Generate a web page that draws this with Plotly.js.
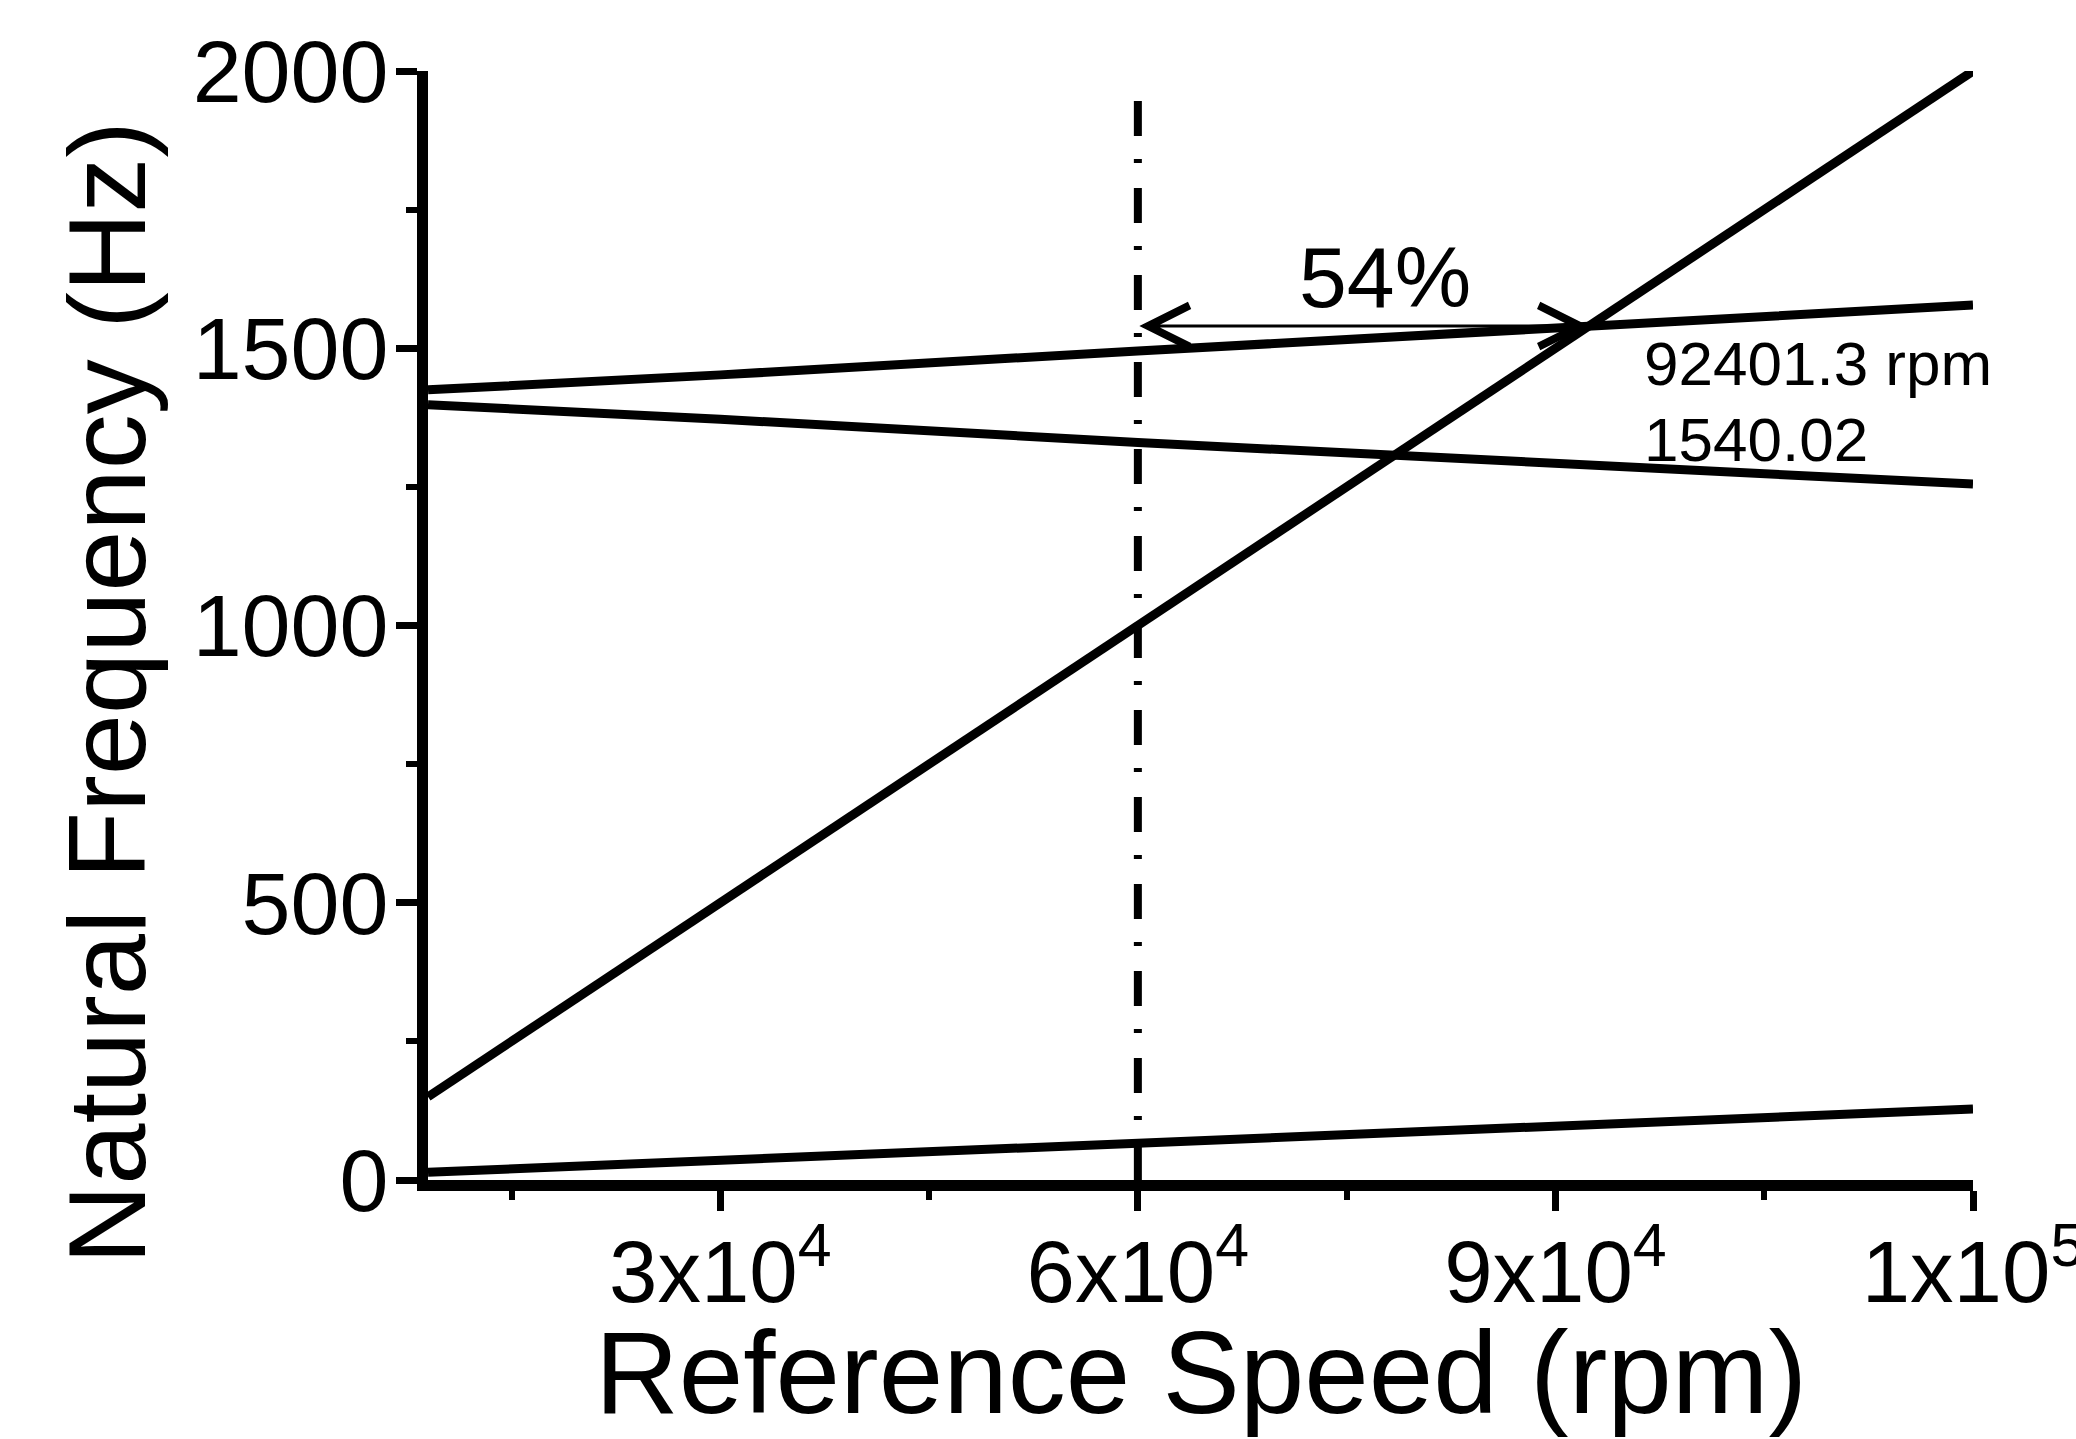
<!DOCTYPE html>
<html>
<head>
<meta charset="utf-8">
<script src="https://cdn.plot.ly/plotly-3.0.1.min.js"></script>
<style>html,body{margin:0;padding:0;background:#fff;}#chart{width:2076px;height:1439px;}</style>
</head>
<body>
<div id="chart"></div>
<script>
// Reference speed (rpm)
const speed = [9000, 30000, 60000, 90000, 120000];
// Natural frequency branches (Hz)
const lowMode = [14, 35, 66, 99, 128];
const forwardWhirl = [1425, 1452, 1495, 1538, 1578];
const backwardWhirl = [1398, 1372, 1330, 1293, 1255];
const excitation1X = [150, 500, 1000, 1500, 2000];
// Operating reference speed marker
const markerSpeed = [60000, 60000];
const markerFreq = [0, 1975];
// Crossing point
const crossSpeed = 92401.3;
const crossFreq = 1540.02;
const marginLabel = "54%";
// Ticks
const xTickVals = [30000, 60000, 90000, 120000];
const xTickText = ["3x10<sup>4</sup>", "6x10<sup>4</sup>", "9x10<sup>4</sup>", "1x10<sup>5</sup>"];
const yTickVals = [0, 500, 1000, 1500, 2000];
const yTickText = ["0", "500", "1000", "1500", "2000"];

const FONT = "Liberation Sans, Arial, sans-serif";
const lineStyle = {color: "#000", width: 9};

const traces = [
  {x: speed, y: lowMode, mode: "lines", line: lineStyle, name: "Mode 1"},
  {x: speed, y: forwardWhirl, mode: "lines", line: lineStyle, name: "Forward"},
  {x: speed, y: backwardWhirl, mode: "lines", line: lineStyle, name: "Backward"},
  {x: speed, y: excitation1X, mode: "lines", line: lineStyle, name: "1X"},
  {x: markerSpeed, y: markerFreq, mode: "lines",
   line: {color: "#000", width: 8, dash: "35px,25px,4px,23px"}, name: "Reference"}
];

const layout = {
  width: 2076, height: 1439,
  margin: {l: 428, r: 103, t: 71, b: 259, pad: 0},
  paper_bgcolor: "#fff", plot_bgcolor: "#fff",
  showlegend: false,
  font: {family: FONT, color: "#000", size: 84},
  xaxis: {
    range: [9000, 120000],
    tickmode: "array", tickvals: xTickVals, ticktext: xTickText,
    ticks: "outside", ticklen: 20, tickwidth: 7, tickcolor: "#000",
    minor: {dtick: 15000, tick0: 0, ticks: "outside", ticklen: 9, tickwidth: 6, tickcolor: "#000"},
    showline: true, linewidth: 11, linecolor: "#000",
    showgrid: false, zeroline: false,
    tickfont: {family: FONT, size: 87, color: "#000"},
    ticklabelstandoff: -13,
    ticklabeloverflow: "allow"
  },
  yaxis: {
    range: [0, 2000],
    tickmode: "array", tickvals: yTickVals, ticktext: yTickText,
    ticks: "outside", ticklen: 21, tickwidth: 7, tickcolor: "#000",
    minor: {dtick: 250, tick0: 0, ticks: "outside", ticklen: 11, tickwidth: 6, tickcolor: "#000"},
    showline: true, linewidth: 11, linecolor: "#000",
    showgrid: false, zeroline: false,
    tickfont: {family: FONT, size: 88, color: "#000"},
    ticklabelstandoff: -10,
    ticklabeloverflow: "allow"
  },
  annotations: [
    {xref: "paper", yref: "paper", x: -0.2084, y: 0.439, xanchor: "center", yanchor: "middle",
     text: "Natural Frequency (Hz)", textangle: -90, showarrow: false,
     font: {family: FONT, size: 110, color: "#000"}},
    {xref: "paper", yref: "paper", x: 0.5, y: -0.174, xanchor: "center", yanchor: "middle",
     text: "Reference Speed (rpm)", showarrow: false,
     font: {family: FONT, size: 116, color: "#000"}},
    {x: crossSpeed, y: crossFreq, xref: "x", yref: "y",
     ax: markerSpeed[0], ay: crossFreq, axref: "x", ayref: "y",
     text: "", showarrow: true, arrowside: "end+start",
     arrowhead: 5, startarrowhead: 5, arrowsize: 2.7, startarrowsize: 2.7,
     arrowwidth: 3, arrowcolor: "#000", standoff: 0, startstandoff: 0},
    {x: 77770, y: 1628, xref: "x", yref: "y", text: marginLabel, showarrow: false,
     xanchor: "center", yanchor: "middle", font: {family: FONT, size: 86, color: "#000"}},
    {x: 96250, y: 1473, xref: "x", yref: "y", text: crossSpeed.toFixed(1) + " rpm", showarrow: false,
     xanchor: "left", yanchor: "middle", font: {family: FONT, size: 62, color: "#000"}},
    {x: 96250, y: 1335, xref: "x", yref: "y", text: crossFreq.toFixed(2), showarrow: false,
     xanchor: "left", yanchor: "middle", font: {family: FONT, size: 62, color: "#000"}}
  ]
};

Plotly.newPlot("chart", traces, layout, {displayModeBar: false, staticPlot: true});
</script>
</body>
</html>
